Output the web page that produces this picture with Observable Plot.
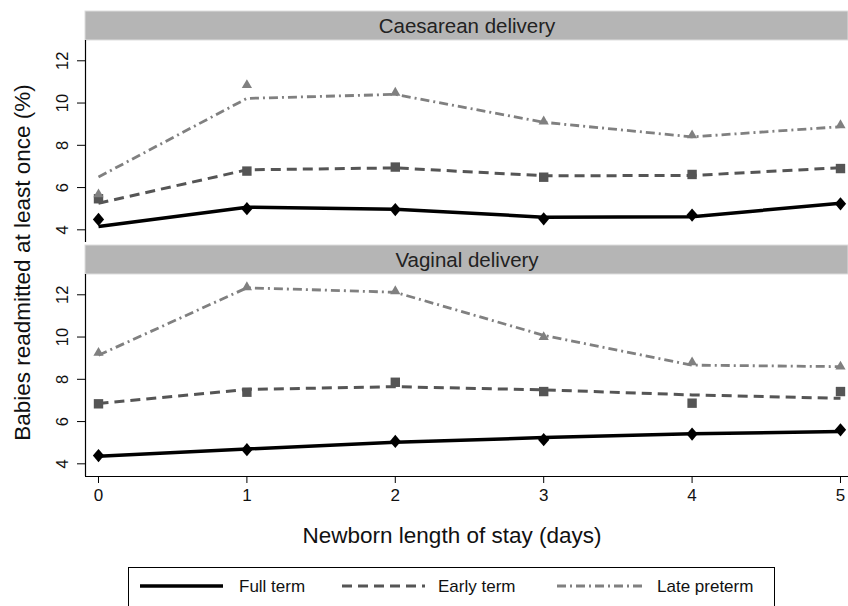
<!DOCTYPE html>
<html>
<head>
<meta charset="utf-8">
<script src="https://cdn.jsdelivr.net/npm/d3@7"></script>
<script src="https://cdn.jsdelivr.net/npm/@observablehq/plot@0.6"></script>
<style>
  html, body { margin: 0; padding: 0; background: #fff; }
  #chart svg { display: block; }
  #legend { display: block; }
</style>
</head>
<body>
<div id="chart"></div>
<svg id="legend" width="848" height="46"></svg>
<script>
// ---- data ----
const days = [0, 1, 2, 3, 4, 5];
const deliveries = ["Caesarean delivery", "Vaginal delivery"];
const terms = ["Full term", "Early term", "Late preterm"];
const yTicks = [4, 6, 8, 10, 12];

// observed rates (%), Caesarean delivery
const fullC  = [4.49, 5.00, 4.96, 4.52, 4.70, 5.23];
const earlyC = [5.47, 6.78, 6.97, 6.49, 6.62, 6.90];
const lateC  = [5.68, 10.85, 10.49, 9.13, 8.47, 8.95];
// fitted rates (%), Caesarean delivery
const fullCFit  = [4.16, 5.07, 4.97, 4.60, 4.62, 5.26];
const earlyCFit = [5.26, 6.84, 6.93, 6.56, 6.57, 6.94];
const lateCFit  = [6.50, 10.22, 10.41, 9.09, 8.40, 8.88];
// observed rates (%), Vaginal delivery
const fullV  = [4.39, 4.67, 5.06, 5.14, 5.41, 5.61];
const earlyV = [6.84, 7.39, 7.86, 7.42, 6.87, 7.42];
const lateV  = [9.25, 12.36, 12.17, 10.00, 8.80, 8.60];
// fitted rates (%), Vaginal delivery
const fullVFit  = [4.36, 4.70, 5.02, 5.24, 5.42, 5.53];
const earlyVFit = [6.86, 7.52, 7.65, 7.50, 7.26, 7.10];
const lateVFit  = [9.14, 12.33, 12.12, 10.08, 8.67, 8.60];

// ---- build tables ----
const observed = {
  "Caesarean delivery": [fullC, earlyC, lateC],
  "Vaginal delivery": [fullV, earlyV, lateV]
};
const fitted = {
  "Caesarean delivery": [fullCFit, earlyCFit, lateCFit],
  "Vaginal delivery": [fullVFit, earlyVFit, lateVFit]
};
function table(src) {
  const rows = [];
  for (const d of deliveries) {
    src[d].forEach((vals, ti) => {
      vals.forEach((v, i) => rows.push({delivery: d, term: terms[ti], day: days[i], value: v}));
    });
  }
  return rows;
}
const obsRows = table(observed);
const fitRows = table(fitted);

// ---- styling ----
const FONT = "'Liberation Sans', Arial, Helvetica, sans-serif";
const termStyle = {
  "Full term":    {color: "#000000", width: 3.5, dash: null,       r: 5.5, symbol: null},
  "Early term":   {color: "#555555", width: 3,   dash: "10,6",     r: 5.3, symbol: "square"},
  "Late preterm": {color: "#808080", width: 2.8, dash: "9,4,2,4",  r: 3.8, symbol: "triangle"}
};
const tallDiamond = {
  draw(ctx, size) {
    const h = Math.sqrt(size) * 0.68, w = h * 0.85;
    ctx.moveTo(0, -h); ctx.lineTo(w, 0); ctx.lineTo(0, h); ctx.lineTo(-w, 0); ctx.closePath();
  }
};
termStyle["Full term"].symbol = tallDiamond;

const X0 = -0.0876, X1 = 5.054, Y0 = 3.4, Y1 = 12.96;

const lineMarks = terms.map(t => Plot.line(fitRows.filter(r => r.term === t), {
  fy: "delivery", x: "day", y: "value",
  stroke: termStyle[t].color, strokeWidth: termStyle[t].width,
  strokeDasharray: termStyle[t].dash, strokeLinecap: "butt", strokeLinejoin: "round"
}));
const dotMarks = terms.map(t => Plot.dot(obsRows.filter(r => r.term === t), {
  fy: "delivery", x: "day", y: "value",
  symbol: termStyle[t].symbol, r: termStyle[t].r,
  fill: termStyle[t].color, stroke: "none"
}));

const chart = Plot.plot({
  width: 848,
  height: 560,
  marginLeft: 85,
  marginRight: 0,
  marginTop: 40,
  marginBottom: 83,
  style: {fontFamily: FONT, background: "white", color: "#111"},
  x: {domain: [X0, X1]},
  y: {domain: [Y0, Y1]},
  fy: {domain: deliveries, paddingInner: 0.1365, paddingOuter: 0, axis: null},
  marks: [
    // strip headers
    Plot.rect(deliveries, {fy: d => d, x1: X0, x2: X1, y1: Y1, y2: Y1, insetTop: -29,
      fill: "#b5b5b5", stroke: "#dddddd", strokeWidth: 1}),
    Plot.text(deliveries, {fy: d => d, text: d => d, frameAnchor: "top", dy: -14.5,
      lineAnchor: "middle", textAnchor: "middle", fontSize: 20.5, fill: "#222"}),
    // axes
    Plot.ruleX([X0], {stroke: "#000", strokeWidth: 1.2}),
    Plot.ruleY([{fy: "Vaginal delivery", y: Y0}], {fy: "fy", y: "y", stroke: "#000", strokeWidth: 1.2}),
    Plot.axisY({ticks: yTicks, tickSize: 8, tickPadding: 10, tickRotate: -90,
      textAnchor: "middle", lineAnchor: "bottom", fontSize: 16.5, label: null, stroke: "#000"}),
    Plot.axisX({ticks: days, tickFormat: d => String(d), tickSize: 7, tickPadding: 5,
      fontSize: 17, label: null, stroke: "#000"}),
    Plot.text(["Newborn length of stay (days)"], {fy: () => "Vaginal delivery", text: d => d,
      frameAnchor: "bottom", textAnchor: "middle", lineAnchor: "middle",
      dx: -15, dy: 59, fontSize: 22.5, fill: "#111"}),
    Plot.text(["Babies readmitted at least once (%)"], {fy: () => "Caesarean delivery", text: d => d,
      frameAnchor: "bottom-left", textAnchor: "middle", lineAnchor: "middle",
      dx: -63, dy: 20, rotate: -90, fontSize: 22.5, fill: "#111"}),
    // data
    ...lineMarks,
    ...dotMarks
  ]
});
document.getElementById("chart").appendChild(chart);

// ---- legend ----
const leg = d3.select("#legend").style("font-family", FONT);
leg.append("rect").attr("x", 128.5).attr("y", 7.5).attr("width", 646).attr("height", 60)
  .attr("fill", "white").attr("stroke", "#000").attr("stroke-width", 1);
const legendItems = [
  {term: "Full term",    x1: 140, x2: 223, tx: 239},
  {term: "Early term",   x1: 342, x2: 425, tx: 438},
  {term: "Late preterm", x1: 557, x2: 642, tx: 657}
];
const ly = 26;
legendItems.forEach(it => {
  const s = termStyle[it.term];
  leg.append("line").attr("x1", it.x1).attr("x2", it.x2).attr("y1", ly).attr("y2", ly)
    .attr("stroke", s.color).attr("stroke-width", s.width)
    .attr("stroke-dasharray", s.dash);
  leg.append("text").attr("x", it.tx).attr("y", ly).attr("dy", "0.35em")
    .attr("font-size", 17).attr("fill", "#111").text(it.term);
});
</script>
</body>
</html>
